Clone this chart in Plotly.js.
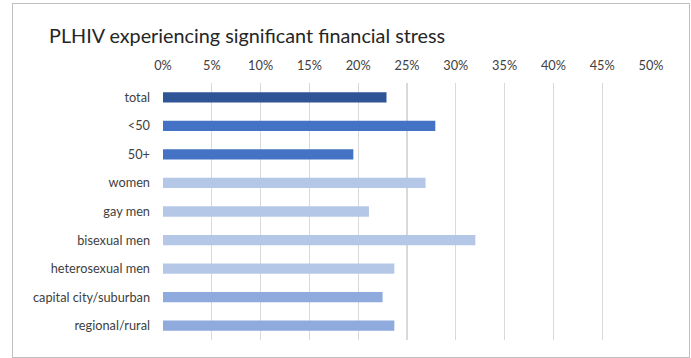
<!DOCTYPE html>
<html>
<head>
<meta charset="utf-8">
<script src="https://cdn.plot.ly/plotly-3.0.1.min.js"></script>
<style>
  html, body { margin: 0; padding: 0; background: #fff; }
  #wrap { position: relative; width: 691px; height: 358px; }
  #frame { position: absolute; left: 12px; top: 3px; width: 676px; height: 353px; border: 1px solid #BFBFBF; pointer-events: none; }
  #chart { position: absolute; left: 0; top: 0; width: 691px; height: 358px; }
</style>
</head>
<body>
<div id="wrap">
  <div id="chart"></div>
  <div id="frame"></div>
</div>
<script>
const categories = ["total", "<50", "50+", "women", "gay men", "bisexual men", "heterosexual men", "capital city/suburban", "regional/rural"];
const values = [22.9, 27.9, 19.5, 26.9, 21.1, 32.0, 23.7, 22.5, 23.7];
const tickValues = [0, 5, 10, 15, 20, 25, 30, 35, 40, 45, 50];
const tickLabels = ["0%", "5%", "10%", "15%", "20%", "25%", "30%", "35%", "40%", "45%", "50%"];
const barColors = ["#2F5597", "#4472C4", "#4472C4", "#B4C7E7", "#B4C7E7", "#B4C7E7", "#B4C7E7", "#8FAADC", "#8FAADC"];

const fontFam = "Lato, 'Open Sans', sans-serif";

const trace = {
  type: "bar",
  orientation: "h",
  y: categories,
  x: values,
  width: 0.36,
  marker: { color: barColors, line: { width: 0 } },
  hoverinfo: "x+y"
};

const layout = {
  width: 691,
  height: 358,
  margin: { l: 163, r: 40, t: 83, b: 18, pad: 0 },
  paper_bgcolor: "rgba(0,0,0,0)",
  plot_bgcolor: "rgba(0,0,0,0)",
  showlegend: false,
  title: {
    text: "PLHIV experiencing significant financial stress",
    font: { family: fontFam, size: 19.8, color: "#262626" },
    xref: "container", x: 49 / 691, xanchor: "left",
    yref: "container", y: 1 - 36 / 358, yanchor: "middle"
  },
  xaxis: {
    side: "top",
    range: [0, 50],
    tickvals: tickValues,
    ticktext: tickLabels,
    showgrid: true,
    gridcolor: "#D9D9D9",
    gridwidth: 1.3,
    zeroline: false,
    showline: false,
    ticks: "",
    ticklabelstandoff: 9,
    tickfont: { family: fontFam, size: 12.75, color: "#404040" },
    fixedrange: true
  },
  yaxis: {
    type: "category",
    autorange: "reversed",
    showgrid: false,
    zeroline: false,
    showline: false,
    ticks: "",
    ticklabelstandoff: 12,
    tickfont: { family: fontFam, size: 12.75, color: "#404040" },
    fixedrange: true
  }
};

Plotly.newPlot("chart", [trace], layout, { displayModeBar: false, staticPlot: true });
</script>
</body>
</html>
